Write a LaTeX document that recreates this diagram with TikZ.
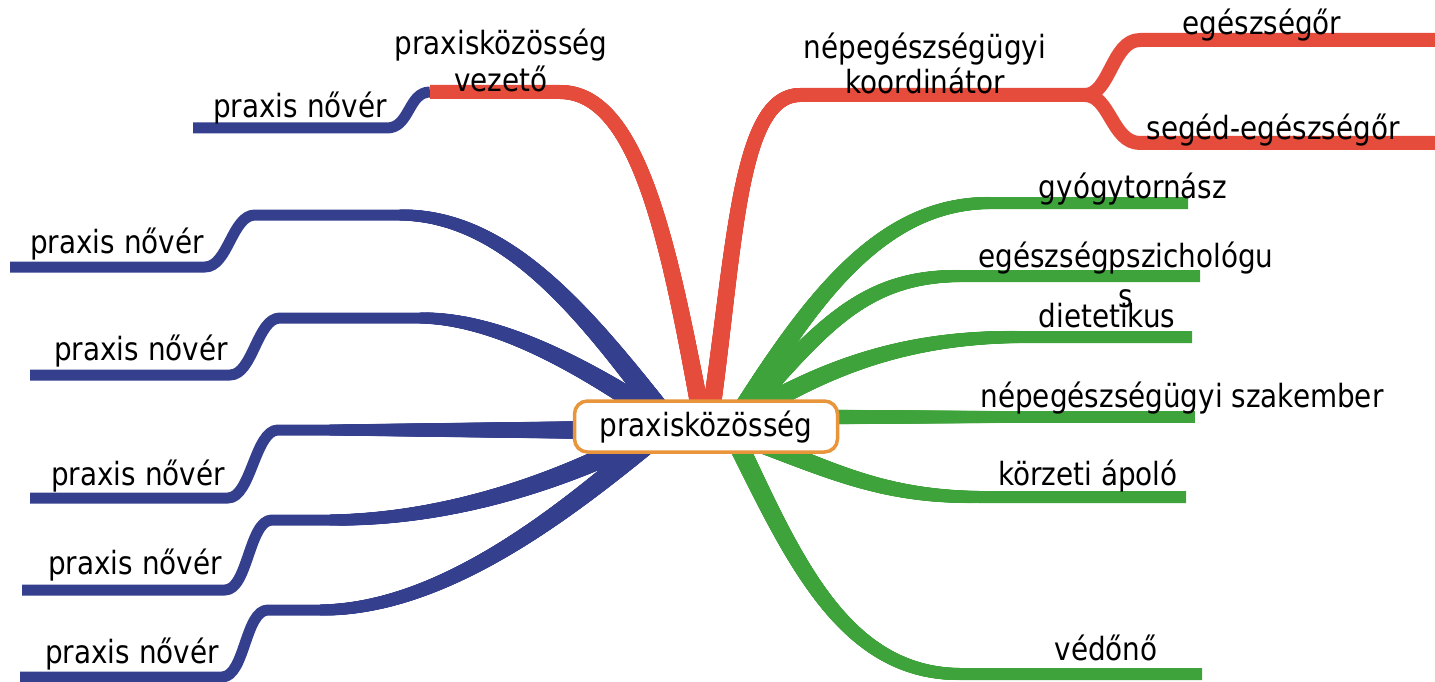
\documentclass[tikz,border=0pt]{standalone}
\usepackage{fontspec}
\setmainfont{DejaVu Sans}[FakeStretch=0.87]
\usetikzlibrary{backgrounds,decorations.markings}

\definecolor{nurseblue}{HTML}{343F8E}
\definecolor{leadred}{HTML}{E64C3C}
\definecolor{teamgreen}{HTML}{3FA33B}
\definecolor{rootorange}{HTML}{E8953C}

\begin{document}
\begin{tikzpicture}[x=1pt,y=-1pt,
  every node/.style={inner sep=0pt},
  lbl/.style={font=\fontsize{32}{37}\selectfont, anchor=base, align=center, text=black},
  twig/.style={line cap=butt, line join=round},
  nurse/.style={twig, draw=nurseblue, line width=11pt},
  lead/.style={twig, draw=leadred, line width=14pt},
  team/.style={twig, draw=teamgreen, line width=12pt},
  % a branch that widens towards the centre: colour, width at start, width at end
  swell/.style n args={3}{postaction={decorate, decoration={markings,
     mark=between positions 0 and 1 step 1pt with {%
       \pgfmathsetmacro\swellr{(#2+(#3-#2)*\pgfkeysvalueof{/pgf/decoration/mark info/distance from start}/\pgfdecoratedpathlength)/2}%
       \fill[#1] (0,0) circle[radius=\swellr pt];}}}},
  rootbox/.style={draw=rootorange, line width=3.5pt, fill=white,
    rounded corners=13pt, minimum width=263pt, inner xsep=0pt, inner ysep=4pt,
    text height=31pt, text depth=12pt, font=\fontsize{32}{37}\selectfont, anchor=base}
]
\useasboundingbox (0,0) rectangle (1435,682);

% central topic
\node[rootbox] (root) at (706,436) {praxisközösség};

% hubs behind the central box
\coordinate (bhub) at (670,424);
\coordinate (rhubl) at (702,420);
\coordinate (rhubr) at (710,420);
\coordinate (ghub) at (735,422);
\coordinate (ghubl) at (732,432);

% branch labels (anchored on the baseline of their last line)
\node[lbl] (pn1) at (300,118) {praxis nővér};
\node[lbl] (pn2) at (117,253) {praxis nővér};
\node[lbl] (pn3) at (141,360) {praxis nővér};
\node[lbl] (pn4) at (138,485) {praxis nővér};
\node[lbl] (pn5) at (135,574) {praxis nővér};
\node[lbl] (pn6) at (132,663) {praxis nővér};
\node[lbl] (lead) at (501,92) {praxisközösség\\vezető};
\node[lbl, font=\fontsize{32}{35}\selectfont] (coord) at (925,94) {népegészségügyi\\koordinátor};
\node[lbl] (eg) at (1262,35) {egészségőr};
\node[lbl] (seg) at (1273,140) {segéd-egészségőr};
\node[lbl] (gyt) at (1133,198) {gyógytornász};
\node[lbl, font=\fontsize{32}{40}\selectfont] (psy) at (1126,307) {egészségpszichológu\\s};
\node[lbl] (diet) at (1107,327) {dietetikus};
\node[lbl] (nesz) at (1182,407) {népegészségügyi szakember};
\node[lbl] (korz) at (1088,485) {körzeti ápoló};
\node[lbl] (ved) at (1106,660) {védőnő};

% free ends of the branches
\coordinate (pn1e) at (193,128);
\coordinate (pn2e) at (10,267);
\coordinate (pn3e) at (30,375);
\coordinate (pn4e) at (30,498);
\coordinate (pn5e) at (22,590);
\coordinate (pn6e) at (20,677);
\coordinate (vjoin) at (430,92);
\coordinate (kfork) at (1085,95);
\coordinate (ege) at (1435,40);
\coordinate (sege) at (1435,143);
\coordinate (gyte) at (1188,203);
\coordinate (psye) at (1200,276);
\coordinate (diete) at (1192,337);
\coordinate (nesze) at (1195,417);
\coordinate (korze) at (1186,497);
\coordinate (vede) at (1202,674);

\begin{pgfonlayer}{background}
  \fill[white] (0,0) rectangle (1435,682);

  % nurses
  \draw[nurse] (vjoin) .. controls (408,92) and (410,128) .. (387,128) -- (pn1e);
  \draw[nurse] (bhub) .. controls (590,320) and (510,215) .. (400,215) -- (255,215)
    .. controls (232,215) and (228,267) .. (205,267) -- (pn2e);
  \path[swell={nurseblue}{22}{11}] (bhub) .. controls (590,320) and (510,215) .. (400,215);
  \draw[nurse] (bhub) .. controls (590,370) and (500,318) .. (420,318) -- (280,318)
    .. controls (257,318) and (253,375) .. (230,375) -- (pn3e);
  \path[swell={nurseblue}{22}{11}] (bhub) .. controls (590,370) and (500,318) .. (420,318);
  \draw[nurse] (bhub) -- (670,430) -- (278,430)
    .. controls (255,430) and (251,498) .. (228,498) -- (pn4e);
  \path[swell={nurseblue}{20}{11}] (670,430) -- (330,430);
  \draw[nurse] (bhub) .. controls (570,480) and (450,520) .. (330,520) -- (272,520)
    .. controls (249,520) and (248,590) .. (225,590) -- (pn5e);
  \path[swell={nurseblue}{22}{11}] (bhub) .. controls (570,480) and (450,520) .. (330,520);
  \draw[nurse] (bhub) .. controls (580,500) and (450,610) .. (320,610) -- (268,610)
    .. controls (245,610) and (245,677) .. (222,677) -- (pn6e);
  \path[swell={nurseblue}{22}{11}] (bhub) .. controls (580,500) and (450,610) .. (320,610);

  % leaders
  \draw[lead] (rhubl) .. controls (670,250) and (640,92) .. (560,92) -- (vjoin);
  \path[swell={leadred}{18}{14}] (rhubl) .. controls (670,250) and (640,92) .. (560,92);
  \draw[lead] (rhubr) .. controls (735,250) and (738,95) .. (800,95) -- (kfork);
  \path[swell={leadred}{18}{14}] (rhubr) .. controls (735,250) and (738,95) .. (800,95);
  \draw[lead] (kfork) .. controls (1110,95) and (1112,40) .. (1140,40) -- (ege);
  \draw[lead] (kfork) .. controls (1110,95) and (1112,143) .. (1140,143) -- (sege);

  % team members
  \draw[team] (ghub) .. controls (810,300) and (880,203) .. (990,203) -- (gyte);
  \path[swell={teamgreen}{20}{12}] (ghub) .. controls (810,300) and (880,203) .. (990,203);
  \draw[team] (ghub) .. controls (820,330) and (860,276) .. (960,276) -- (psye);
  \path[swell={teamgreen}{20}{12}] (ghub) .. controls (820,330) and (860,276) .. (960,276);
  \draw[team] (ghub) .. controls (820,370) and (900,337) .. (1020,337) -- (diete);
  \path[swell={teamgreen}{20}{12}] (ghub) .. controls (820,370) and (900,337) .. (1020,337);
  \draw[team] (ghub |- nesze) -- (nesze);
  \path[swell={teamgreen}{16}{12}] (ghub |- nesze) -- (1000,417);
  \draw[team] (ghubl) .. controls (830,470) and (880,497) .. (980,497) -- (korze);
  \path[swell={teamgreen}{20}{12}] (ghubl) .. controls (830,470) and (880,497) .. (980,497);
  \draw[team] (ghubl) .. controls (790,550) and (840,674) .. (960,674) -- (vede);
  \path[swell={teamgreen}{20}{12}] (ghubl) .. controls (790,550) and (840,674) .. (960,674);
\end{pgfonlayer}
\end{tikzpicture}
\end{document}
